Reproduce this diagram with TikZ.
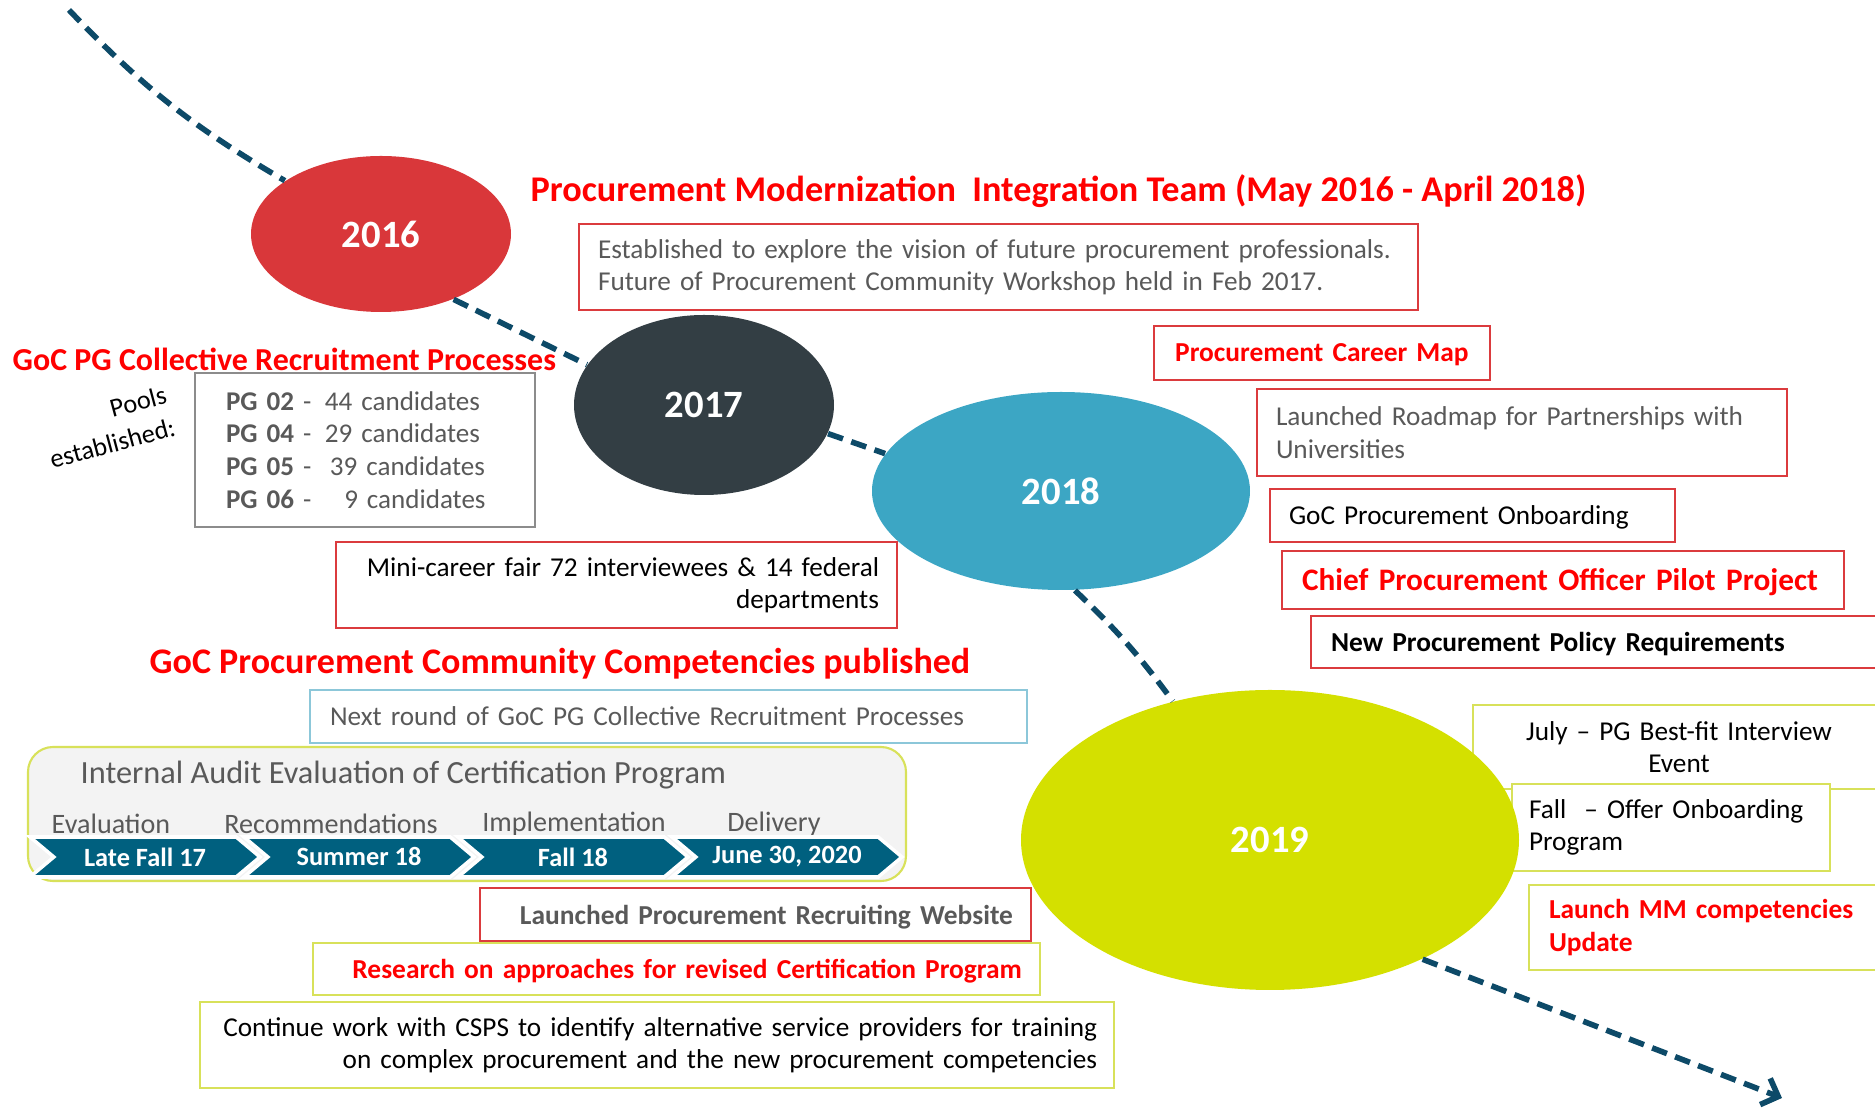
\documentclass[tikz,border=0pt]{standalone}
\usepackage{fontspec}
\setmainfont{Carlito}
\usetikzlibrary{shapes.geometric,shapes.symbols,arrows.meta}
\hyphenpenalty=10000
\exhyphenpenalty=10000

\definecolor{red16}{HTML}{D9373A}
\definecolor{dark17}{HTML}{333E44}
\definecolor{blue18}{HTML}{3CA6C4}
\definecolor{lime19}{HTML}{D4E000}
\definecolor{lineblue}{HTML}{0D4A68}
\definecolor{chevblue}{HTML}{00607F}
\definecolor{boxred}{HTML}{DB3B3E}
\definecolor{boxyel}{HTML}{D8E15A}
\definecolor{boxblue}{HTML}{8CC7D9}
\definecolor{boxgray}{HTML}{8C8C8C}
\definecolor{txtgray}{HTML}{595959}
\definecolor{txtred}{HTML}{FF0000}
\definecolor{auditfill}{HTML}{F3F3F3}

\begin{document}
\begin{tikzpicture}[
	year/.style={
		ellipse,
		inner sep=0pt,
		text=white,
		font=\fontsize{11}{13}\selectfont\bfseries
	},
	box/.style={
		rectangle,
		inner xsep=0.19cm,
		inner ysep=0pt,
		line width=0.6pt,
		font=\fontsize{7.75}{9.2}\selectfont
	},
	redbox/.style={box, draw=boxred},
	yelbox/.style={box, draw=boxyel},
	oneline/.style={text depth=0pt},
	boldtext/.style={font=\fontsize{7.8}{9.2}\selectfont\bfseries},
	heading/.style={
		anchor=west,
		inner sep=0pt,
		text=txtred,
		font=\fontsize{9.1}{11}\selectfont\bfseries
	},
	phase/.style={
		inner sep=0pt,
		text=txtgray,
		font=\fontsize{8}{9.2}\selectfont
	},
	chev/.style={
		signal,
		signal from=west,
		signal to=east,
		signal pointer angle=80,
		fill=chevblue,
		draw=white,
		line width=1pt,
		minimum width=2.3cm,
		minimum height=0.4cm,
		inner sep=0pt,
		text=white,
		font=\fontsize{7.5}{9}\selectfont\bfseries
	},
	timeline/.style={
		draw=lineblue,
		line width=1.6pt,
		dash pattern=on 4.5pt off 2.5pt
	},
]
\useasboundingbox (0,0) rectangle (18.75,11.11);

% boxes behind the 2019 ellipse
\node[yelbox, align=center, text width=3.74cm, minimum height=0.84cm] (box_july) at (16.79,3.64) {July -- PG Best-fit Interview\\Event};
\node[yelbox, fill=white, inner xsep=0.17cm, align=left, text width=2.84cm, minimum height=0.87cm] (box_fall) at (16.71,2.835) {Fall~ -- Offer Onboarding\\Program};

% years
\node[year, fill=red16, minimum width=2.6cm, minimum height=1.56cm] (year_2016) at (3.81, 8.77) {2016};
\node[year, fill=dark17, minimum width=2.6cm, minimum height=1.8cm] (year_2017) at (7.04, 7.06) {2017};
\node[year, fill=blue18, minimum width=3.78cm, minimum height=1.98cm] (year_2018) at (10.61, 6.2) {2018};
\node[year, fill=lime19, minimum width=4.98cm, minimum height=3.0cm] (year_2019) at (12.7, 2.71) {2019};

\coordinate (tl_start) at (0.69, 11.01);
\coordinate (tl_end) at (17.82, 0.13);

\draw[timeline] (tl_start) to[bend right=8] (year_2016.151);
\draw[timeline] (year_2016.-42) -- (year_2017.161);
\draw[timeline] (year_2017.-13) -- (year_2018.168);
\draw[timeline] (year_2018.-82) to[bend left=5] (year_2019.125);
\draw[timeline, -{Straight Barb[length=4pt, width=8pt]}] (year_2019.-38) -- (tl_end);

% 2016 - 2017
\node[heading, font=\fontsize{10.3}{12}\selectfont\bfseries] (head_pmit) at (5.3, 9.2) {Procurement Modernization~ Integration Team (May 2016 - April 2018)};
\node[redbox, text=txtgray, align=left, text width=8.01cm, minimum height=0.86cm] (box_estab) at (9.985, 8.44) {Established to explore the vision of future procurement professionals.\\Future of Procurement Community Workshop held in Feb 2017.};

\node[heading] (head_pg) at (0.12, 7.52) {GoC PG Collective Recruitment Processes};
\node[box, draw=boxgray, text=txtgray, inner xsep=0.31cm, align=left, text width=2.78cm, minimum height=1.54cm, font=\fontsize{7.7}{9.3}\selectfont] (box_pools) at (3.65, 6.61) {\textbf{PG 02} -\enspace 44 candidates\\
	\textbf{PG 04} -\enspace 29 candidates\\
	\textbf{PG 05} -\enspace\hspace{1.4pt}39 candidates\\
	\textbf{PG 06} -\enspace\hspace{5.5pt}9 candidates};
\node[rotate=15, align=right, inner sep=0pt, font=\fontsize{7.5}{9.6}\selectfont] (pools_lbl) at (1.08, 6.84) {Pools\\established:};

\node[redbox, inner xsep=0.18cm, align=right, text width=5.25cm, minimum height=0.86cm] (box_mini) at (6.165, 5.26) {Mini-career fair 72 interviewees \& 14 federal\\departments};

\node[heading, font=\fontsize{10.25}{12}\selectfont\bfseries] (head_comp) at (1.49, 4.47) {GoC Procurement Community Competencies published};
\node[box, oneline, draw=boxblue, text=txtgray, inner xsep=0.2cm, align=left, text width=6.77cm, minimum height=0.53cm] (box_next) at (6.685, 3.945) {Next round of GoC PG Collective Recruitment Processes};

% audit timeline
\node[rectangle, rounded corners=0.25cm, fill=auditfill, draw=boxyel, line width=0.6pt, minimum width=8.78cm, minimum height=1.34cm] (audit) at (4.67, 2.97) {};
\node[phase, anchor=west, font=\fontsize{9.2}{11}\selectfont] (audit_title) at (0.8, 3.36) {Internal Audit Evaluation of Certification Program};

\node[phase] (ph_eval) at (1.11, 2.87) {Evaluation};
\node[phase] (ph_rec) at (3.31, 2.87) {Recommendations};
\node[phase] (ph_impl) at (5.74, 2.87) {Implementation};
\node[phase] (ph_del) at (7.74, 2.87) {Delivery};

\node[chev] (chev_eval) at (1.45, 2.54) {Late Fall 17};
\node[chev] (chev_rec) at (3.59, 2.54) {Summer 18};
\node[chev] (chev_impl) at (5.73, 2.54) {Fall 18};
\node[chev] (chev_del) at (7.87, 2.54) {June 30, 2020};

\node[redbox, oneline, boldtext, inner xsep=0.18cm, text=txtgray, align=right, text width=5.15cm, minimum height=0.53cm] (box_web) at (7.555, 1.965) {Launched Procurement Recruiting Website};
\node[yelbox, oneline, boldtext, inner xsep=0.18cm, text=txtred, align=right, text width=6.91cm, minimum height=0.52cm] (box_research) at (6.765, 1.42) {Research on approaches for revised Certification Program};
\node[yelbox, inner xsep=0.17cm, align=right, text width=8.8cm, minimum height=0.86cm] (box_csps) at (6.57, 0.66) {Continue work with CSPS to identify alternative service providers for training\\on complex procurement and the new procurement competencies};

% 2018 - 2019
\node[redbox, oneline, boldtext, inner xsep=0.1cm, text=txtred, align=center, text width=3.16cm, minimum height=0.54cm] (box_career) at (13.22, 7.58) {Procurement Career Map};
\node[redbox, text=txtgray, align=left, text width=4.92cm, minimum height=0.87cm] (box_road) at (15.22, 6.785) {Launched Roadmap for Partnerships with\\Universities};
\node[redbox, oneline, align=left, text width=3.67cm, minimum height=0.53cm] (box_onb) at (14.725, 5.955) {GoC Procurement Onboarding};
\node[redbox, oneline, inner xsep=0.2cm, text=txtred, align=left, text width=5.22cm, minimum height=0.58cm, font=\fontsize{8.9}{11}\selectfont\bfseries] (box_cpo) at (15.63, 5.31) {Chief Procurement Officer Pilot Project};
\node[redbox, oneline, boldtext, inner xsep=0.2cm, align=left, text width=5.5cm, minimum height=0.52cm] (box_policy) at (16.06, 4.69) {New Procurement Policy Requirements};
\node[yelbox, boldtext, inner xsep=0.2cm, text=txtred, align=left, text width=3.22cm, minimum height=0.85cm] (box_mm) at (17.1, 1.835) {Launch MM competencies\\Update};

\end{tikzpicture}
\end{document}
